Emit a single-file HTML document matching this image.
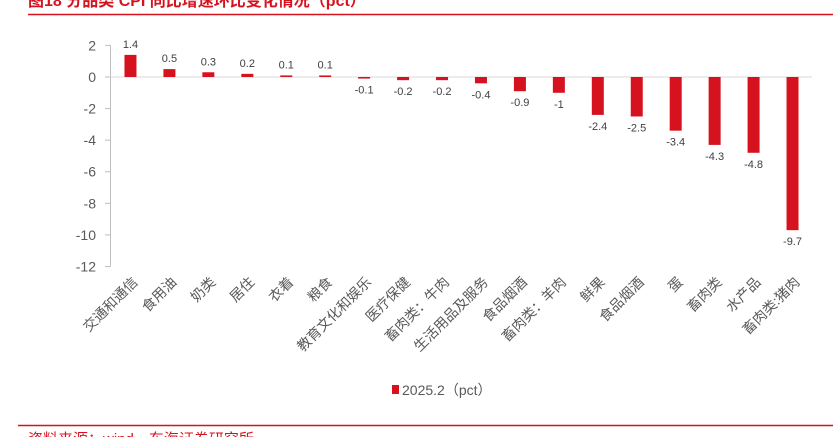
<!DOCTYPE html>
<html><head><meta charset="utf-8"><style>
body{margin:0;background:#fff;width:833px;height:437px;overflow:hidden;font-family:"Liberation Sans","Noto Sans CJK SC",sans-serif}
</style></head><body>
<svg width="833" height="437" style="position:absolute;left:0;top:0">
<text x="28" y="6" fill="#d7121f" font-size="16" font-weight="bold" font-family="Liberation Sans, Noto Sans CJK SC, sans-serif">图18  分品类 CPI 同比增速环比变化情况（pct）</text>
<line x1="28" y1="14.5" x2="833" y2="14.5" stroke="#d7121f" stroke-width="1.5"/>
<line x1="18" y1="425.5" x2="833" y2="425.5" stroke="#d7121f" stroke-width="1.5"/>
<text x="28" y="444" fill="#d7121f" font-size="15">资料来源：wind，东海证券研究所</text>
<g id="axis"></g><g id="bars"></g><g id="labels"></g>
<rect x="392" y="385" width="7" height="9" fill="#d7121f"/>
<text x="402" y="395" fill="#595959" font-size="14">2025.2（pct）</text>
</svg>
<script>
const categories=["交通和通信","食用油","奶类","居住","衣着","粮食","教育文化和娱乐","医疗保健","畜肉类：牛肉","生活用品及服务","食品烟酒","畜肉类：羊肉","鲜果","食品烟酒","蛋","畜肉类","水产品","畜肉类:猪肉"];
const values=[1.4,0.5,0.3,0.2,0.1,0.1,-0.1,-0.2,-0.2,-0.4,-0.9,-1,-2.4,-2.5,-3.4,-4.3,-4.8,-9.7];
const valueLabels=["1.4","0.5","0.3","0.2","0.1","0.1","-0.1","-0.2","-0.2","-0.4","-0.9","-1","-2.4","-2.5","-3.4","-4.3","-4.8","-9.7"];
const yTicks=[2,0,-2,-4,-6,-8,-10,-12];
const NS="http://www.w3.org/2000/svg";
const y=v=>77-v*15.79;
const n=categories.length, x0=111, step=(812-111)/n;
const xc=i=>x0+step*(i+0.5);
function mk(t,a,p){const e=document.createElementNS(NS,t);for(const k in a)e.setAttribute(k,a[k]);p.appendChild(e);return e;}
const ax=document.getElementById('axis'),bg=document.getElementById('bars'),lg=document.getElementById('labels');
const yl=mk('line',{x1:110.5,y1:y(2),x2:110.5,y2:y(-12),stroke:'#bfbfbf'},ax);


yTicks.forEach(t=>{
 const tk=mk('line',{x1:105,x2:110.5,y1:y(t),y2:y(t),stroke:'#bfbfbf'},ax);
 
 
 const tx=mk('text',{x:96,y:y(t)+5,'text-anchor':'end','font-size':14,fill:'#595959'},ax);
 tx.textContent=t;
 
 
});
const xl=mk('line',{x1:110.5,x2:812,y1:y(0),y2:y(0),stroke:'#d9d9d9'},ax);


values.forEach((v,i)=>{
 const c=xc(i),top=Math.min(y(v),y(0)),h=Math.max(Math.abs(y(v)-y(0)),1);
 const r=mk('rect',{x:c-6,y:top,width:12,height:h,fill:'#d7121f'},bg);
 
 
 const t=mk('text',{x:c,y:v>=0?y(v)-7:y(v)+15,'text-anchor':'middle','font-size':11,fill:'#404040'},lg);
 t.textContent=valueLabels[i];
 
 
 const cl=mk('text',{x:0,y:0,'text-anchor':'end','font-size':14,fill:'#595959',transform:`translate(${c+8},${283}) rotate(-45)`},lg);
 cl.textContent=categories[i];
 
 
});
</script>
</body></html>
